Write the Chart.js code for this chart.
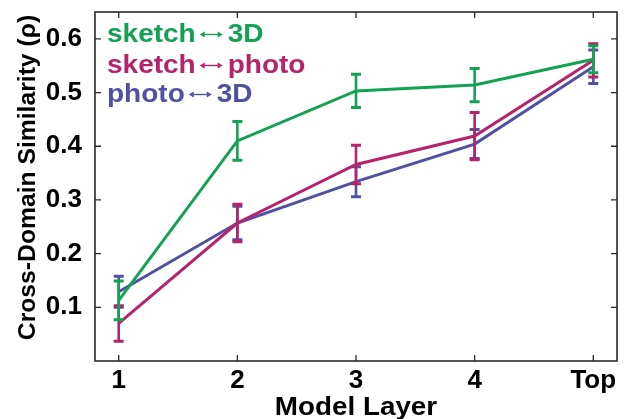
<!DOCTYPE html>
<html>
<head>
<meta charset="utf-8">
<script src="https://cdn.jsdelivr.net/npm/chart.js@4.4.1/dist/chart.umd.min.js"></script>
<style>
  html, body { margin: 0; padding: 0; background: #fff; }
  #wrap { width: 626px; height: 419px; }
</style>
</head>
<body>
<div id="wrap"><canvas id="chart" width="626" height="419"></canvas></div>
<script>
// x positions of the model layers and their tick labels
const layers = [1, 2, 3, 4, 5];
const layerLabels = ["1", "2", "3", "4", "Top"];
const yTicks = [0.1, 0.2, 0.3, 0.4, 0.5, 0.6];

// mean similarity per layer and error bar half-heights
const sketch3D = [0.113, 0.410, 0.503, 0.514, 0.562];
const sketch3DErr = [0.036, 0.036, 0.031, 0.031, 0.025];
const sketchPhoto = [0.070, 0.257, 0.366, 0.419, 0.560];
const sketchPhotoErr = [0.033, 0.035, 0.036, 0.044, 0.031];
const photo3D = [0.129, 0.257, 0.334, 0.404, 0.548];
const photo3DErr = [0.029, 0.031, 0.028, 0.027, 0.031];

const seriesNames = [["sketch", "3D"], ["sketch", "photo"], ["photo", "3D"]];
const colors = ["#13a153", "#b7236b", "#5151a3"];

const FONT = '"Liberation Sans", Arial, Helvetica, sans-serif';

function points(vals) {
  return layers.map((x, i) => ({ x: x, y: vals[i] }));
}

// box round the plot with inward tick marks on all four sides
const framePlugin = {
  id: "frame",
  beforeDatasetsDraw(chart) {
    const { ctx, chartArea: a, scales } = chart;
    ctx.save();
    ctx.strokeStyle = "#2a2a2a";
    ctx.lineWidth = 1.6;
    ctx.strokeRect(a.left, a.top, a.right - a.left, a.bottom - a.top);
    ctx.lineWidth = 1.3;
    ctx.beginPath();
    layers.forEach(v => {
      const x = scales.x.getPixelForValue(v);
      ctx.moveTo(x, a.bottom); ctx.lineTo(x, a.bottom - 6);
      ctx.moveTo(x, a.top); ctx.lineTo(x, a.top + 6);
    });
    yTicks.forEach(v => {
      const y = scales.y.getPixelForValue(v);
      ctx.moveTo(a.left, y); ctx.lineTo(a.left + 6, y);
      ctx.moveTo(a.right, y); ctx.lineTo(a.right - 6, y);
    });
    ctx.stroke();
    ctx.restore();
  }
};

// vertical error bars with caps, drawn with each dataset
const errorBarPlugin = {
  id: "errorBars",
  afterDatasetDraw(chart, args) {
    const ds = chart.data.datasets[args.index];
    if (!ds.errors) return;
    const { ctx, scales } = chart;
    ctx.save();
    ctx.strokeStyle = ds.borderColor;
    args.meta.data.forEach((pt, i) => {
      const v = ds.data[i].y, e = ds.errors[i];
      const y0 = scales.y.getPixelForValue(v + e);
      const y1 = scales.y.getPixelForValue(v - e);
      ctx.lineWidth = 2.6;
      ctx.beginPath();
      ctx.moveTo(pt.x, y0); ctx.lineTo(pt.x, y1);
      ctx.stroke();
      ctx.lineWidth = 3;
      ctx.beginPath();
      ctx.moveTo(pt.x - 5, y0); ctx.lineTo(pt.x + 5, y0);
      ctx.moveTo(pt.x - 5, y1); ctx.lineTo(pt.x + 5, y1);
      ctx.stroke();
    });
    ctx.restore();
  }
};

function stretchedText(ctx, text, x, y, sx) {
  ctx.save();
  ctx.translate(x, y);
  ctx.scale(sx, 1);
  ctx.fillText(text, 0, 0);
  ctx.restore();
  return x + ctx.measureText(text).width * sx;
}

function arrowHead(ctx, x, y, dir) {
  ctx.beginPath();
  ctx.moveTo(x, y);
  ctx.lineTo(x + dir * 5, y - 3);
  ctx.lineTo(x + dir * 5, y + 3);
  ctx.closePath();
  ctx.fill();
}

// coloured text legend and the two axis titles
const textPlugin = {
  id: "texts",
  afterDraw(chart) {
    const { ctx, chartArea: a } = chart;
    ctx.save();
    ctx.textBaseline = "alphabetic";
    ctx.textAlign = "left";
    ctx.font = "bold 25px " + FONT;
    const rows = [42, 73, 102];
    seriesNames.forEach(([w1, w2], i) => {
      const y = rows[i];
      ctx.fillStyle = colors[i];
      ctx.strokeStyle = colors[i];
      let x = stretchedText(ctx, w1, a.left + 12, y, 1.12);
      const ax0 = x + 4, ax1 = ax0 + 23, ay = y - 7.5;
      ctx.lineWidth = 1.4;
      ctx.beginPath();
      ctx.moveTo(ax0 + 3, ay); ctx.lineTo(ax1 - 3, ay);
      ctx.stroke();
      arrowHead(ctx, ax0, ay, 1);
      arrowHead(ctx, ax1, ay, -1);
      stretchedText(ctx, w2, ax1 + 5, y, 1.12);
    });

    ctx.fillStyle = "#000";
    ctx.textAlign = "center";
    ctx.font = "bold 26px " + FONT;
    ctx.save();
    ctx.translate((a.left + a.right) / 2, 415);
    ctx.scale(1.07, 1);
    ctx.fillText("Model Layer", 0, 0);
    ctx.restore();

    ctx.font = "bold 24.7px " + FONT;
    ctx.save();
    ctx.translate(35, (a.top + a.bottom) / 2 - 9);
    ctx.rotate(-Math.PI / 2);
    ctx.fillText("Cross-Domain Similarity (\u03c1)", 0, 0);
    ctx.restore();
    ctx.restore();
  }
};

const datasets = [
  { label: "sketch\u2194" + "3D", data: points(sketch3D), errors: sketch3DErr },
  { label: "sketch\u2194photo", data: points(sketchPhoto), errors: sketchPhotoErr },
  { label: "photo\u2194" + "3D", data: points(photo3D), errors: photo3DErr }
].map((d, i) => Object.assign(d, {
  borderColor: colors[i],
  backgroundColor: colors[i],
  borderWidth: 3,
  pointRadius: 0,
  tension: 0,
  fill: false
}));

new Chart(document.getElementById("chart"), {
  type: "line",
  data: { datasets: datasets },
  plugins: [framePlugin, errorBarPlugin, textPlugin],
  options: {
    responsive: false,
    animation: false,
    layout: { padding: { top: 12, right: 9, left: 0, bottom: 0 } },
    plugins: { legend: { display: false }, tooltip: { enabled: false } },
    scales: {
      x: {
        type: "linear",
        min: 0.8,
        max: 5.2,
        afterFit: s => { s.height = 58; s.paddingLeft = 0; s.paddingRight = 0; },
        afterBuildTicks: s => { s.ticks = layers.map(v => ({ value: v })); },
        grid: { display: false, drawTicks: false },
        border: { display: false },
        ticks: {
          padding: 4,
          color: "#000",
          font: { family: FONT, size: 26, weight: "bold" },
          callback: v => layerLabels[layers.indexOf(v)]
        }
      },
      y: {
        min: 0,
        max: 0.65,
        bounds: "data",
        // labels sit well inside the range, so drop the edge padding Chart.js reserves for them
        afterFit: s => { s.width = 95; s.paddingTop = 0; s.paddingBottom = 0; },
        afterBuildTicks: s => { s.ticks = yTicks.map(v => ({ value: v })); },
        grid: { display: false, drawTicks: false },
        border: { display: false },
        ticks: {
          padding: 13,
          color: "#000",
          font: { family: FONT, size: 26, weight: "bold" },
          callback: v => v.toFixed(1)
        }
      }
    }
  }
});
</script>
</body>
</html>
